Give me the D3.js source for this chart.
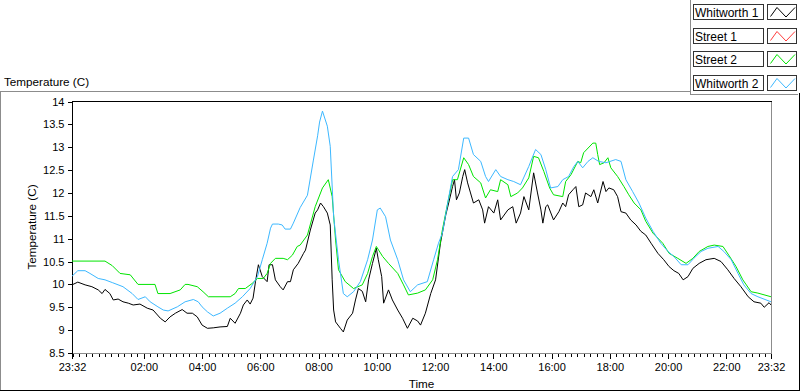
<!DOCTYPE html>
<html><head><meta charset="utf-8">
<script src="https://cdn.jsdelivr.net/npm/d3@7"></script>
<style>
html,body{margin:0;padding:0;background:#fff;}
svg{display:block;font-family:"Liberation Sans",Arial,sans-serif;}
</style></head><body>
<svg id="chart" width="800" height="392"></svg>
<script>
// ---------- data ----------
const seriesNames = ["Whitworth 1", "Street 1", "Street 2", "Whitworth 2"];
const seriesColors = ["#000000", "#ff3b3b", "#00e400", "#3cb8ff"];
const startClock = "23:32";           // first sample (day 1); series are [minutes since start, °C]
const xTickLabels = ["23:32","02:00","04:00","06:00","08:00","10:00","12:00","14:00","16:00","18:00","20:00","22:00","23:32"];
const yTickValues = [8.5, 9, 9.5, 10, 10.5, 11, 11.5, 12, 12.5, 13, 13.5, 14];

const whitworth1 = [[0,9.99],[12,10.05],[27,9.99],[41,9.95],[54,9.88],[62,9.80],[68,9.89],[78,9.80],[85,9.66],[95,9.68],[105,9.62],[116,9.59],[126,9.55],[140,9.57],[155,9.48],[167,9.44],[182,9.26],[192,9.18],[202,9.29],[213,9.37],[227,9.45],[237,9.37],[248,9.37],[258,9.29],[268,9.11],[279,9.04],[291,9.05],[305,9.07],[320,9.08],[326,9.26],[336,9.15],[347,9.37],[353,9.55],[361,9.66],[367,9.57],[373,9.70],[378,10.06],[384,10.43],[392,10.17],[402,10.06],[406,10.43],[413,10.43],[419,10.10],[429,9.95],[435,9.88],[444,10.06],[450,10.06],[456,10.32],[466,10.46],[477,10.68],[481,10.75],[491,11.19],[501,11.56],[506,11.63],[512,11.78],[518,11.70],[526,11.56],[532,11.30],[536,10.10],[539,9.44],[543,9.18],[553,9.04],[559,8.96],[567,9.22],[578,9.37],[584,9.66],[590,9.91],[598,9.85],[605,9.62],[611,10.10],[619,10.46],[627,10.79],[631,10.54],[638,10.17],[642,9.59],[652,9.88],[660,9.66],[671,9.44],[681,9.26],[691,9.04],[702,9.26],[712,9.20],[718,9.11],[728,9.37],[739,9.80],[749,10.10],[759,10.90],[770,11.52],[776,11.78],[784,12.14],[788,12.29],[792,11.85],[798,12.00],[805,12.36],[809,12.51],[815,12.22],[821,12.00],[827,11.78],[838,11.85],[846,11.63],[850,11.34],[858,11.70],[869,11.56],[877,11.85],[883,11.41],[898,11.63],[908,11.70],[915,11.34],[924,11.56],[931,11.92],[941,11.63],[951,12.44],[959,12.00],[966,11.63],[970,11.34],[976,11.70],[980,11.74],[992,11.41],[1003,11.59],[1011,11.78],[1017,11.70],[1023,11.96],[1032,12.07],[1038,12.14],[1044,11.70],[1052,11.74],[1058,12.00],[1069,11.92],[1075,12.07],[1083,11.78],[1094,12.25],[1100,12.03],[1106,12.11],[1116,12.07],[1124,11.92],[1131,11.59],[1141,11.56],[1151,11.41],[1162,11.30],[1172,11.16],[1182,11.08],[1193,10.90],[1207,10.68],[1219,10.54],[1230,10.39],[1240,10.30],[1250,10.24],[1259,10.10],[1269,10.17],[1279,10.35],[1292,10.46],[1306,10.54],[1323,10.57],[1337,10.50],[1351,10.32],[1364,10.13],[1378,9.95],[1393,9.73],[1405,9.62],[1419,9.59],[1426,9.50],[1436,9.60],[1440,9.55]];

const street1 = [];

const street2 = [[0,10.51],[68,10.51],[83,10.41],[99,10.24],[120,10.21],[136,10.00],[171,10.00],[177,9.80],[202,9.80],[223,9.88],[233,10.00],[239,10.00],[258,9.95],[270,9.84],[281,9.73],[326,9.73],[336,9.80],[343,9.91],[357,9.91],[371,10.02],[382,10.13],[394,10.13],[402,10.24],[409,10.46],[419,10.57],[435,10.57],[444,10.54],[454,10.64],[464,10.83],[470,10.86],[485,11.08],[501,11.70],[516,12.11],[528,12.29],[536,11.92],[543,10.97],[549,10.32],[563,10.06],[580,9.91],[598,9.99],[609,10.24],[619,10.61],[627,10.83],[640,10.61],[652,10.46],[671,10.24],[683,9.99],[693,9.77],[712,9.81],[728,9.88],[743,10.10],[753,10.54],[763,11.19],[774,11.78],[784,12.29],[794,12.29],[807,12.77],[817,12.62],[827,12.36],[842,12.22],[852,11.89],[862,12.07],[877,12.03],[883,12.29],[898,12.18],[904,11.92],[918,12.00],[928,12.11],[941,12.33],[951,12.80],[961,12.77],[972,12.47],[984,12.11],[992,11.96],[1011,11.92],[1017,12.25],[1028,12.40],[1042,12.69],[1048,12.66],[1054,12.88],[1073,13.09],[1079,13.09],[1083,12.84],[1087,12.62],[1096,12.66],[1104,12.77],[1110,12.55],[1124,12.36],[1137,12.14],[1147,11.96],[1158,11.78],[1172,11.63],[1182,11.38],[1197,11.12],[1217,10.90],[1230,10.68],[1248,10.57],[1265,10.46],[1279,10.57],[1292,10.72],[1310,10.83],[1323,10.86],[1341,10.83],[1353,10.64],[1368,10.39],[1382,10.10],[1399,9.84],[1413,9.81],[1440,9.73]];

const whitworth2 = [[0,10.18],[12,10.30],[27,10.30],[37,10.24],[54,10.13],[68,10.10],[83,10.04],[105,9.95],[124,9.80],[136,9.67],[151,9.73],[161,9.62],[177,9.51],[188,9.44],[198,9.42],[217,9.51],[233,9.62],[250,9.67],[260,9.62],[268,9.51],[279,9.40],[291,9.31],[305,9.37],[320,9.48],[336,9.59],[351,9.73],[367,9.91],[382,10.17],[392,10.54],[402,10.90],[409,11.23],[413,11.32],[425,11.32],[433,11.30],[439,11.21],[450,11.21],[456,11.34],[470,11.68],[485,11.95],[497,12.70],[506,13.25],[510,13.55],[516,13.79],[526,13.46],[532,13.02],[539,11.48],[549,10.54],[559,9.80],[567,9.73],[580,9.84],[594,10.06],[609,10.54],[619,10.97],[629,11.63],[635,11.67],[646,11.48],[656,10.97],[671,10.54],[683,10.10],[697,9.84],[712,9.99],[732,10.06],[745,10.54],[755,10.90],[763,11.12],[774,11.78],[784,12.36],[796,12.51],[807,13.20],[817,13.20],[827,12.84],[842,12.69],[852,12.36],[858,12.25],[873,12.51],[883,12.36],[898,12.29],[910,12.25],[924,12.18],[941,12.58],[955,12.95],[966,12.84],[976,12.51],[986,12.11],[1001,12.14],[1011,12.29],[1023,12.36],[1034,12.58],[1042,12.69],[1052,12.55],[1063,12.69],[1073,12.77],[1085,12.69],[1100,12.66],[1120,12.73],[1131,12.69],[1141,12.29],[1155,12.03],[1168,11.78],[1182,11.45],[1197,11.16],[1213,10.90],[1228,10.72],[1240,10.61],[1255,10.43],[1269,10.43],[1281,10.57],[1296,10.72],[1310,10.79],[1331,10.83],[1343,10.72],[1358,10.54],[1372,10.24],[1384,9.99],[1399,9.80],[1413,9.73],[1440,9.62]];

const allSeries = [whitworth1, street1, street2, whitworth2];

// ---------- chart ----------
const svg = d3.select("#chart");
const [sh, sm] = startClock.split(":").map(Number);
const t0 = new Date(2000, 0, 1, sh, sm);
const toDate = m => new Date(t0.getTime() + m * 60000);
const tEnd = toDate(1440);

const x = d3.scaleTime().domain([t0, tEnd]).range([72, 771]);
const y = d3.scaleLinear().domain([8.5, 14]).range([353, 101.5]);

// panel frame
const g0 = svg.append("g").attr("shape-rendering", "crispEdges");
g0.append("line").attr("x1", 0).attr("x2", 690).attr("y1", 91.5).attr("y2", 91.5).attr("stroke", "#8c8c8c");
g0.append("line").attr("x1", 0.5).attr("x2", 0.5).attr("y1", 91.5).attr("y2", 390).attr("stroke", "#8c8c8c");
g0.append("line").attr("x1", 0).attr("x2", 800).attr("y1", 390.5).attr("y2", 390.5).attr("stroke", "#000");
g0.append("line").attr("x1", 799.5).attr("x2", 799.5).attr("y1", 93).attr("y2", 391).attr("stroke", "#000");
// legend box edges
g0.append("line").attr("x1", 690.5).attr("x2", 690.5).attr("y1", 0).attr("y2", 95).attr("stroke", "#8c8c8c");
g0.append("line").attr("x1", 690).attr("x2", 798).attr("y1", 94.5).attr("y2", 94.5).attr("stroke", "#8c8c8c");

// title
svg.append("text").attr("x", 4).attr("y", 86).attr("font-size", "11.7px").attr("fill", "#000").text("Temperature (C)");

// data lines
const line = d3.line().x(d => x(toDate(d[0]))).y(d => y(d[1]));
const plot = svg.append("g");
allSeries.forEach((s, i) => {
  if (!s.length) return;
  plot.append("path").datum(s).attr("d", line).attr("fill", "none")
    .attr("stroke", seriesColors[i]).attr("stroke-width", 1);
});

// plot area frame (sunken)
g0.append("line").attr("x1", 72.5).attr("x2", 72.5).attr("y1", 101.5).attr("y2", 353).attr("stroke", "#000");
g0.append("line").attr("x1", 72).attr("x2", 772).attr("y1", 101.5).attr("y2", 101.5).attr("stroke", "#000");
svg.append("line").attr("x1", 771.5).attr("x2", 771.5).attr("y1", 101.5).attr("y2", 353.5).attr("stroke", "#8c8c8c").attr("shape-rendering", "crispEdges");
svg.append("line").attr("x1", 73).attr("x2", 772).attr("y1", 353.5).attr("y2", 353.5).attr("stroke", "#8c8c8c").attr("shape-rendering", "crispEdges");

// y axis
const yAxis = d3.axisLeft(y).tickValues(yTickValues).tickFormat(d => String(d)).tickSize(5).tickPadding(3);
const gy = svg.append("g").attr("transform", "translate(72.5,0)").call(yAxis);
gy.select(".domain").remove();
gy.selectAll("text").attr("font-size", "11px").attr("font-family", "Liberation Sans, Arial, sans-serif").attr("fill", "#000");
gy.selectAll("line").attr("stroke", "#000").attr("shape-rendering", "crispEdges");

// x axis
const majorDates = xTickLabels.map((lab, i) => {
  if (i === 0) return t0;
  if (i === xTickLabels.length - 1) return tEnd;
  const [h, m] = lab.split(":").map(Number);
  return new Date(2000, 0, 2, h, m);
});
const step = 120 / 9;
const minorDates = [];
const ref = majorDates[1].getTime();
for (let k = -20; k <= 120; k++) {
  const d = new Date(ref + k * step * 60000);
  if (d >= t0 && d <= tEnd) minorDates.push(d);
}
const gxm = svg.append("g").attr("transform", "translate(0,353.5)")
  .call(d3.axisBottom(x).tickValues(minorDates).tickFormat("").tickSize(3));
gxm.select(".domain").remove();
gxm.selectAll("line").attr("stroke", "#000").attr("shape-rendering", "crispEdges");

const gx = svg.append("g").attr("transform", "translate(0,353.5)")
  .call(d3.axisBottom(x).tickValues(majorDates).tickFormat((d, i) => xTickLabels[i]).tickSize(5).tickPadding(5));
gx.select(".domain").remove();
gx.selectAll("line").attr("stroke", "#000").attr("shape-rendering", "crispEdges");
gx.selectAll("text").attr("font-size", "11px").attr("font-family", "Liberation Sans, Arial, sans-serif").attr("fill", "#000");

// axis titles
svg.append("text").attr("x", (72 + 771) / 2).attr("y", 388).attr("text-anchor", "middle")
  .attr("font-size", "11.7px").attr("fill", "#000").text("Time");
svg.append("text").attr("transform", "translate(36,227) rotate(-90)").attr("text-anchor", "middle")
  .attr("font-size", "11.7px").attr("fill", "#000").text("Temperature (C)");

// legend
const leg = svg.append("g");
seriesNames.forEach((name, i) => {
  const top = 4 + i * 23.67;
  const gi = leg.append("g").attr("transform", `translate(0,${Math.round(top)})`);
  gi.append("rect").attr("x", 693.5).attr("y", 0.5).attr("width", 70).attr("height", 15)
    .attr("fill", "#fff").attr("stroke", "#333").attr("shape-rendering", "crispEdges");
  gi.append("text").attr("x", 695).attr("y", 12.5).attr("font-size", "12px").attr("fill", "#000").text(name);
  gi.append("rect").attr("x", 767.5).attr("y", 0.5).attr("width", 29).attr("height", 15)
    .attr("fill", "#fff").attr("stroke", "#333").attr("shape-rendering", "crispEdges");
  gi.append("polyline").attr("points", "770.5,12.5 777,3.5 786,13 795,3.5")
    .attr("fill", "none").attr("stroke", seriesColors[i]).attr("stroke-width", 1);
});
</script>
</body></html>
